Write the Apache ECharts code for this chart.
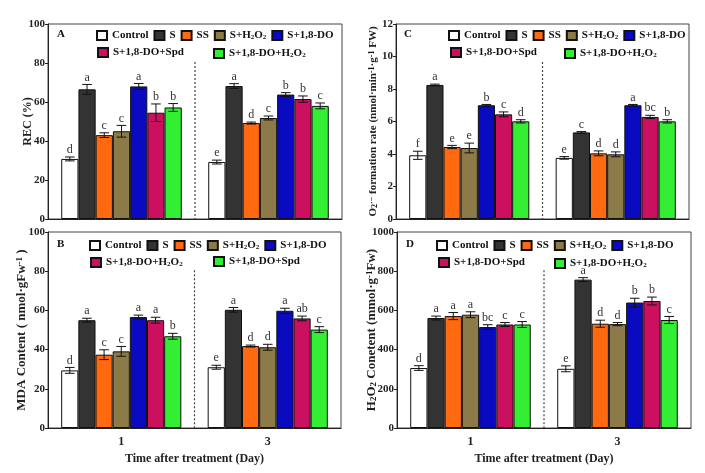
<!DOCTYPE html>
<html><head><meta charset="utf-8">
<script src="https://cdn.jsdelivr.net/npm/echarts@6/dist/echarts.min.js"></script>
<style>html,body{margin:0;padding:0;background:#fff}#c{width:705px;height:473px}</style>
</head><body><div id="c"></div>
<script>
const days = ['1', '3'];
const namesACD = ['Control', 'S', 'SS', 'S+H2O2', 'S+1,8-DO', 'S+1,8-DO+Spd', 'S+1,8-DO+H2O2'];
const namesB = ['Control', 'S', 'SS', 'S+H2O2', 'S+1,8-DO', 'S+1,8-DO+H2O2', 'S+1,8-DO+Spd'];
const colors = ['#ffffff', '#333333', '#ff6a10', '#8c7b48', '#0a0ac0', '#cc1060', '#33ee33'];

// Panel A: REC (%)
const recDay1 = [30.8, 66.5, 43.0, 45.0, 68.0, 54.5, 57.2];
const recDay3 = [29.2, 68.2, 49.2, 51.8, 63.8, 61.5, 58.0];
const recErr1 = [1.0, 2.5, 1.2, 3.0, 1.5, 4.5, 2.0];
const recErr3 = [1.0, 1.2, 0.5, 1.0, 1.0, 1.6, 1.5];
const recLet1 = ['d', 'a', 'c', 'c', 'a', 'b', 'b'];
const recLet3 = ['e', 'a', 'd', 'c', 'b', 'b', 'c'];

// Panel C: O2- formation rate
const o2Day1 = [3.92, 8.25, 4.43, 4.37, 7.0, 6.44, 6.01];
const o2Day3 = [3.76, 5.33, 4.04, 3.98, 7.0, 6.28, 6.01];
const o2Err1 = [0.25, 0.05, 0.1, 0.3, 0.05, 0.15, 0.1];
const o2Err3 = [0.08, 0.05, 0.15, 0.15, 0.05, 0.1, 0.1];
const o2Let1 = ['f', 'a', 'e', 'e', 'b', 'c', 'd'];
const o2Let3 = ['e', 'c', 'd', 'd', 'a', 'bc', 'b'];

// Panel B: MDA content
const mdaDay1 = [29.4, 55.0, 37.4, 39.1, 56.6, 55.0, 46.8];
const mdaDay3 = [31.0, 60.3, 41.8, 41.2, 59.8, 55.9, 50.2];
const mdaErr1 = [1.5, 1.0, 2.5, 2.5, 1.0, 1.5, 1.5];
const mdaErr3 = [1.0, 1.2, 0.5, 1.5, 1.3, 1.2, 1.5];
const mdaLet1 = ['d', 'a', 'c', 'c', 'a', 'a', 'b'];
const mdaLet3 = ['e', 'a', 'd', 'd', 'a', 'ab', 'c'];

// Panel D: H2O2 content
const h2o2Day1 = [306, 561, 571, 578, 515, 528, 528];
const h2o2Day3 = [302, 757, 532, 530, 640, 648, 551];
const h2o2Err1 = [12, 10, 18, 15, 12, 10, 15];
const h2o2Err3 = [15, 10, 18, 8, 22, 20, 18];
const h2o2Let1 = ['d', 'a', 'a', 'a', 'bc', 'c', 'c'];
const h2o2Let3 = ['e', 'a', 'd', 'd', 'b', 'b', 'c'];

const SERIF = '"Liberation Serif", "DejaVu Serif", serif';
const GAP = 0.18;

const panels = [
  {key: 'A', names: namesACD, d1: recDay1, d3: recDay3, e1: recErr1, e3: recErr3, l1: recLet1, l3: recLet3,
   max: 100, interval: 20, grid: {left: 48, top: 24, width: 294, height: 195},
   yName: 'REC (%)', nameGap: 14, nameSize: 12, showX: false, leg: {x1: 96, x2: 97, x3: 213, y1: 36, y2: 54}, title: [57, 36]},
  {key: 'C', names: namesACD, d1: o2Day1, d3: o2Day3, e1: o2Err1, e3: o2Err3, l1: o2Let1, l3: o2Let3,
   max: 12, interval: 2, grid: {left: 396, top: 24, width: 293, height: 195},
   yName: 'O{sub|2}{sup|·−} formation rate (nmol·min{sup|-1}·g{sup|-1} FW)', nameGap: 17, nameSize: 11, showX: false,
   leg: {x1: 448, x2: 450, x3: 564, y1: 36, y2: 54}, title: [404, 36]},
  {key: 'B', names: namesB, d1: mdaDay1, d3: mdaDay3, e1: mdaErr1, e3: mdaErr3, l1: mdaLet1, l3: mdaLet3,
   max: 100, interval: 20, grid: {left: 48, top: 232, width: 293, height: 196},
   yName: 'MDA Content ( nmol·gFw{sup|-1} )', nameGap: 20, nameSize: 13, showX: true,
   leg: {x1: 89, x2: 90, x3: 213, y1: 246, y2: 263}, title: [57, 246]},
  {key: 'D', names: namesACD, d1: h2o2Day1, d3: h2o2Day3, e1: h2o2Err1, e3: h2o2Err3, l1: h2o2Let1, l3: h2o2Let3,
   max: 1000, interval: 200, grid: {left: 397, top: 232, width: 294, height: 196},
   yName: 'H{sub|2}O{sub|2} Conetent (mmol·g{sup|-1}Fw)', nameGap: 19, nameSize: 13, showX: true,
   leg: {x1: 436, x2: 438, x3: 554, y1: 246, y2: 264}, title: [406, 246]}
];

function richFor(size) {
  const s = Math.round(size * 0.7);
  return {
    sub: {fontSize: s, fontWeight: 'bold', fontFamily: SERIF, color: '#111', verticalAlign: 'bottom', lineHeight: s + 2, padding: [5, 0, 0, 0]},
    sup: {fontSize: s, fontWeight: 'bold', fontFamily: SERIF, color: '#111', verticalAlign: 'top', lineHeight: s + 2, padding: [0, 0, 5, 0]}
  };
}
function fmtName(n) {
  return n.replace(/H2O2/g, 'H{sub|2}O{sub|2}');
}

const grids = [], xAxes = [], yAxes = [], series = [], legends = [], titles = [];
panels.forEach((p, pi) => {
  grids.push(Object.assign({show: true, borderColor: '#444', borderWidth: 1, backgroundColor: 'transparent'}, p.grid));
  xAxes.push({
    type: 'category', gridIndex: pi, data: days,
    axisLine: {lineStyle: {color: '#222', width: 1}}, axisTick: {show: false},
    axisLabel: {show: p.showX, fontFamily: SERIF, fontWeight: 'bold', fontSize: 12, color: '#222', margin: 8},
    name: p.showX ? 'Time after treatment (Day)' : '', nameLocation: 'middle', nameGap: 25, nameMoveOverlap: false,
    nameTextStyle: {fontFamily: SERIF, fontWeight: 'bold', fontSize: 12, color: '#222'}
  });
  yAxes.push({
    type: 'value', gridIndex: pi, min: 0, max: p.max, interval: p.interval,
    axisLine: {show: true, lineStyle: {color: '#222', width: 1}},
    axisTick: {show: true, length: 3, lineStyle: {color: '#222'}},
    splitLine: {show: false},
    axisLabel: {fontFamily: SERIF, fontWeight: 'bold', fontSize: 11, color: '#222', margin: 3, formatter: v => String(v)},
    name: p.yName, nameLocation: 'middle', nameRotate: 90, nameGap: p.nameGap, nameMoveOverlap: false,
    nameTextStyle: {fontFamily: SERIF, fontWeight: 'bold', fontSize: p.nameSize, color: '#222', rich: richFor(p.nameSize)}
  });
  const ids = p.names.map(n => p.key + '|' + n);
  p.names.forEach((n, i) => {
    series.push({
      type: 'bar', name: ids[i], xAxisIndex: pi, yAxisIndex: pi,
      data: [p.d1[i], p.d3[i]], barGap: '0%', barCategoryGap: (GAP * 100) + '%',
      itemStyle: {color: colors[i], borderColor: '#111', borderWidth: 1},
      emphasis: {disabled: true}, animation: false
    });
  });
  // error bars + significance letters
  const errData = [];
  [0, 1].forEach(d => {
    p.names.forEach((n, i) => {
      errData.push([d, d === 0 ? p.d1[i] : p.d3[i], d === 0 ? p.e1[i] : p.e3[i], i]);
    });
  });
  const lets = p.l1.concat(p.l3);
  series.push({
    type: 'custom', xAxisIndex: pi, yAxisIndex: pi, data: errData, z: 5, animation: false, silent: true,
    encode: {x: 0, y: 1},
    renderItem: function (params, api) {
      const cat = api.value(0), v = api.value(1), e = api.value(2), i = api.value(3);
      const center = api.coord([cat, v])[0];
      const band = api.size([1, 0])[0];
      const total = band * (1 - GAP);
      const bw = total / 7;
      const x = center - total / 2 + (i + 0.5) * bw;
      const yT = api.coord([cat, v + e])[1], yB = api.coord([cat, v - e])[1];
      const c = bw * 0.28;
      const st = {stroke: '#111', lineWidth: 1};
      return {type: 'group', children: [
        {type: 'line', shape: {x1: x, y1: yT, x2: x, y2: yB}, style: st},
        {type: 'line', shape: {x1: x - c, y1: yT, x2: x + c, y2: yT}, style: st},
        {type: 'line', shape: {x1: x - c, y1: yB, x2: x + c, y2: yB}, style: st},
        {type: 'text', style: {text: lets[params.dataIndex], x: x, y: yT - 1, align: 'center', verticalAlign: 'bottom',
          font: '12px ' + SERIF, fill: '#333'}}
      ]};
    }
  });
  // dotted divider between days
  series.push({
    type: 'custom', xAxisIndex: pi, yAxisIndex: pi, data: [[0, 0]], z: 4, animation: false, silent: true,
    renderItem: function (params, api) {
      const a = api.coord([0, 0]), b = api.coord([1, 0]);
      const top = api.coord([0, p.max * 0.805])[1];
      const xm = (a[0] + b[0]) / 2;
      return {type: 'line', shape: {x1: xm, y1: top, x2: xm, y2: a[1]},
        style: {stroke: '#444', lineWidth: 1.2, lineDash: [2, 2]}};
    }
  });
  const legBase = {
    icon: 'rect', itemWidth: 10, itemHeight: 9, itemGap: 5, orient: 'horizontal', padding: 0,
    formatter: n => fmtName(n.split('|')[1]),
    textStyle: {fontFamily: SERIF, fontWeight: 'bold', fontSize: 11, color: '#111',
      rich: {sub: {fontSize: 7, fontWeight: 'bold', fontFamily: SERIF, color: '#111', verticalAlign: 'bottom', lineHeight: 9, padding: [5, 0, 0, 0]}}},
    selectedMode: false
  };
  legends.push(Object.assign({}, legBase, {data: ids.slice(0, 5), left: p.leg.x1, top: p.leg.y1 - 7}));
  legends.push(Object.assign({}, legBase, {data: [ids[5]], left: p.leg.x2, top: p.leg.y2 - 7}));
  legends.push(Object.assign({}, legBase, {data: [ids[6]], left: p.leg.x3, top: p.leg.y2 - 7}));
  titles.push({text: p.key, left: p.title[0], top: p.title[1] - 7, padding: 0,
    textStyle: {fontFamily: SERIF, fontWeight: 'bold', fontSize: 11, color: '#111'}});
});

const chart = echarts.init(document.getElementById('c'), null, {renderer: 'canvas'});
chart.setOption({
  backgroundColor: '#fff', animation: false,
  title: titles, grid: grids, xAxis: xAxes, yAxis: yAxes, legend: legends, series: series
});
</script></body></html>
